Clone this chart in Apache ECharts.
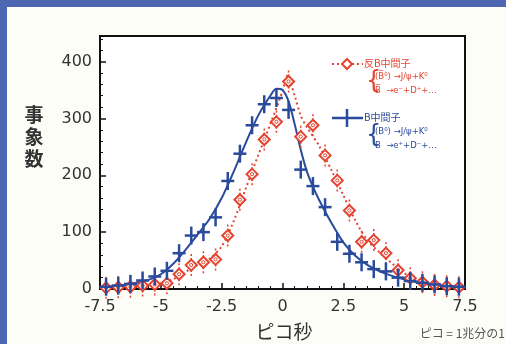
<!DOCTYPE html>
<html><head><meta charset="utf-8">
<script src="https://cdn.jsdelivr.net/npm/echarts@6/dist/echarts.min.js"></script>
<style>html,body{margin:0;padding:0;background:#fdfdf8;}#c{width:506px;height:344px;}</style>
</head><body><div id="c"></div>
<script>
const binCenters = [-7.25,-6.75,-6.25,-5.75,-5.25,-4.75,-4.25,-3.75,-3.25,-2.75,-2.25,-1.75,-1.25,-0.75,-0.25,0.25,0.75,1.25,1.75,2.25,2.75,3.25,3.75,4.25,4.75,5.25,5.75,6.25,6.75,7.25];
const bMesonCounts = [4,6,9,15,22,32,63,94,100,126,190,238,288,325,336,315,210,181,144,83,62,47,35,31,20,14,11,8,5,4];
const antiBMesonCounts = [2,3,4,6,8,10,26,42,47,52,94,157,202,263,294,365,268,288,235,191,138,83,86,63,33,19,12,7,5,3];
const bFitT = [-7.5,-7,-6.5,-6,-5.5,-5,-4.5,-4,-3.5,-3,-2.5,-2,-1.5,-1,-0.5,-0.25,0,0.25,0.5,0.75,1,1.25,1.5,2,2.5,3,3.5,4,4.5,5,5.5,6,6.5,7,7.5];
const bFitV = [3,5,7,11,16,26,44,68,95,123,160,207,258,305,340,352,350,330,290,245,207,180,157,117,82,58,42,31,23,17,12,8,6,4,3];
const antiBFitT = [-7.5,-7,-6.5,-6,-5.5,-5,-4.5,-4,-3.5,-3,-2.5,-2,-1.5,-1,-0.5,0,0.2,0.5,0.75,1,1.5,2,2.5,3,3.5,4,4.5,5,5.5,6,6.5,7,7.5];
const antiBFitV = [2,3,4,5,7,10,17,30,42,53,75,120,178,235,290,348,375,340,305,285,252,210,165,120,85,64,45,28,17,11,7,5,3];
const xTickLabels = {'-7.5':'-7.5','-5':'-5','-2.5':'-2.5','0':'0','2.5':'2.5','5':'5','7.5':'7.5'};
const yTickLabels = {'0':'0','100':'100','200':'200','300':'300','400':'400'};
const legendTexts = {anti:'反B中間子', b:'B中間子'};
const decayLinesAnti = ['(B\u0305\u2070) \u2192J/\u03c8+K\u2070', 'B\u0305  \u2192e\u207b+D\u207a+\u2026'];
const decayLinesB = ['(B\u2070) \u2192J/\u03c8+K\u2070', 'B  \u2192e\u207a+D\u207b+\u2026'];
const axisTitles = {y:'事\n象\n数', x:'ピコ秒', note:'ピコ = 1兆分の1'};

const BLUE = '#2a4a9c', RED = '#e4432f';
const chart = echarts.init(document.getElementById('c'), null, {renderer:'canvas'});

function pairs(xs, ys){ return xs.map((x,i)=>[x, ys[i]]); }

const opt = {
  backgroundColor: '#fdfdf8',
  animation: false,
  grid: {left:100, top:36, width:365, height:253, show:true, backgroundColor:'#ffffff', borderColor:'#111', borderWidth:2},
  xAxis: {
    type:'value', min:-7.5, max:7.5, interval:2.5,
    axisLine:{show:true, onZero:false, lineStyle:{color:'#111', width:2}},
    axisTick:{show:true, inside:true, length:6, lineStyle:{color:'#111', width:1.5}},
    minorTick:{show:true, splitNumber:5, length:3, lineStyle:{color:'#111', width:1}},
    splitLine:{show:false},
    axisLabel:{fontFamily:'DejaVu Sans', fontSize:16, color:'#333', margin:10,
      formatter: v => xTickLabels[String(v)] !== undefined ? xTickLabels[String(v)] : ''}
  },
  yAxis: {
    type:'value', min:0, max:445, interval:100,
    axisLine:{show:true, onZero:false, lineStyle:{color:'#111', width:2}},
    axisTick:{show:true, inside:true, length:6, lineStyle:{color:'#111', width:1.5}},
    minorTick:{show:true, splitNumber:5, length:3, lineStyle:{color:'#111', width:1}},
    splitLine:{show:false},
    axisLabel:{fontFamily:'DejaVu Sans', fontSize:16, color:'#333', margin:8, showMaxLabel:false,
      formatter: v => yTickLabels[String(v)] !== undefined ? yTickLabels[String(v)] : ''}
  },
  series: [
    {type:'line', name:'antiFit', data:pairs(antiBFitT, antiBFitV), smooth:0.3, showSymbol:false,
      lineStyle:{color:RED, width:2, type:[2,3]}, z:2},
    {type:'line', name:'bFit', data:pairs(bFitT, bFitV), smooth:0.3, showSymbol:false,
      lineStyle:{color:BLUE, width:2}, z:3},
    {type:'custom', name:'antiPts', data:pairs(binCenters, antiBMesonCounts), z:4,
      renderItem:(params, api) => {
        const p = api.coord([api.value(0), api.value(1)]);
        const s = 5.5;
        return {type:'group', children:[
          {type:'line', shape:{x1:p[0], y1:p[1]-11, x2:p[0], y2:p[1]+11}, style:{stroke:RED, lineWidth:1.5, lineDash:[2,2]}},
          {type:'polygon', shape:{points:[[p[0],p[1]-s],[p[0]+s,p[1]],[p[0],p[1]+s],[p[0]-s,p[1]]]}, style:{fill:'#fff', stroke:RED, lineWidth:2}},
          {type:'circle', shape:{cx:p[0], cy:p[1], r:1.6}, style:{fill:'#fff', stroke:RED, lineWidth:1}}
        ]};
      }},
    {type:'custom', name:'bPts', data:pairs(binCenters, bMesonCounts), z:5,
      renderItem:(params, api) => {
        const p = api.coord([api.value(0), api.value(1)]);
        return {type:'group', children:[
          {type:'line', shape:{x1:p[0]-6.5, y1:p[1], x2:p[0]+6.5, y2:p[1]}, style:{stroke:BLUE, lineWidth:2.5}},
          {type:'line', shape:{x1:p[0], y1:p[1]-9, x2:p[0], y2:p[1]+9}, style:{stroke:BLUE, lineWidth:2.5}}
        ]};
      }}
  ],
  graphic: [
    {type:'rect', shape:{x:0, y:0, width:506, height:7}, style:{fill:'#4d67b2'}, z:10},
    {type:'rect', shape:{x:0, y:0, width:7, height:344}, style:{fill:'#4d67b2'}, z:10},
    {type:'text', style:{text:axisTitles.y, x:34, y:104, fill:'#333', font:'bold 19px "Noto Sans CJK JP"', textAlign:'center', lineHeight:22}},
    {type:'text', style:{text:axisTitles.x, x:284, y:322, fill:'#333', font:'19px "Noto Sans CJK JP"', textAlign:'center'}},
    {type:'text', style:{text:axisTitles.note, x:505, y:327, fill:'#555', font:'12px "Noto Sans CJK JP"', textAlign:'right'}},
    // legend: anti-B
    {type:'line', shape:{x1:332, y1:64, x2:363, y2:64}, style:{stroke:RED, lineWidth:2, lineDash:[2,3]}, z:20},
    {type:'polygon', shape:{points:[[347,59],[352,64],[347,69],[342,64]]}, style:{fill:'#fff', stroke:RED, lineWidth:2}, z:21},
    {type:'text', style:{text:legendTexts.anti, x:364, y:58, fill:RED, font:'10px "Noto Sans CJK JP"'}, z:20},
    {type:'text', style:{text:'{', x:366, y:70, fill:RED, font:'24px "DejaVu Sans"'}, z:20},
    {type:'text', style:{text:decayLinesAnti[0], x:375, y:72, fill:RED, font:'8.5px "DejaVu Sans"'}, z:20},
    {type:'text', style:{text:decayLinesAnti[1], x:375, y:86, fill:RED, font:'8.5px "DejaVu Sans"'}, z:20},
    // legend: B
    {type:'line', shape:{x1:332, y1:118, x2:363, y2:118}, style:{stroke:BLUE, lineWidth:2.5}, z:20},
    {type:'line', shape:{x1:347, y1:109, x2:347, y2:127}, style:{stroke:BLUE, lineWidth:2.5}, z:20},
    {type:'text', style:{text:legendTexts.b, x:364, y:112, fill:BLUE, font:'10px "Noto Sans CJK JP"'}, z:20},
    {type:'text', style:{text:'{', x:366, y:124, fill:BLUE, font:'24px "DejaVu Sans"'}, z:20},
    {type:'text', style:{text:decayLinesB[0], x:375, y:127, fill:BLUE, font:'8.5px "DejaVu Sans"'}, z:20},
    {type:'text', style:{text:decayLinesB[1], x:375, y:141, fill:BLUE, font:'8.5px "DejaVu Sans"'}, z:20}
  ]
};
chart.setOption(opt);
</script>
</body></html>
